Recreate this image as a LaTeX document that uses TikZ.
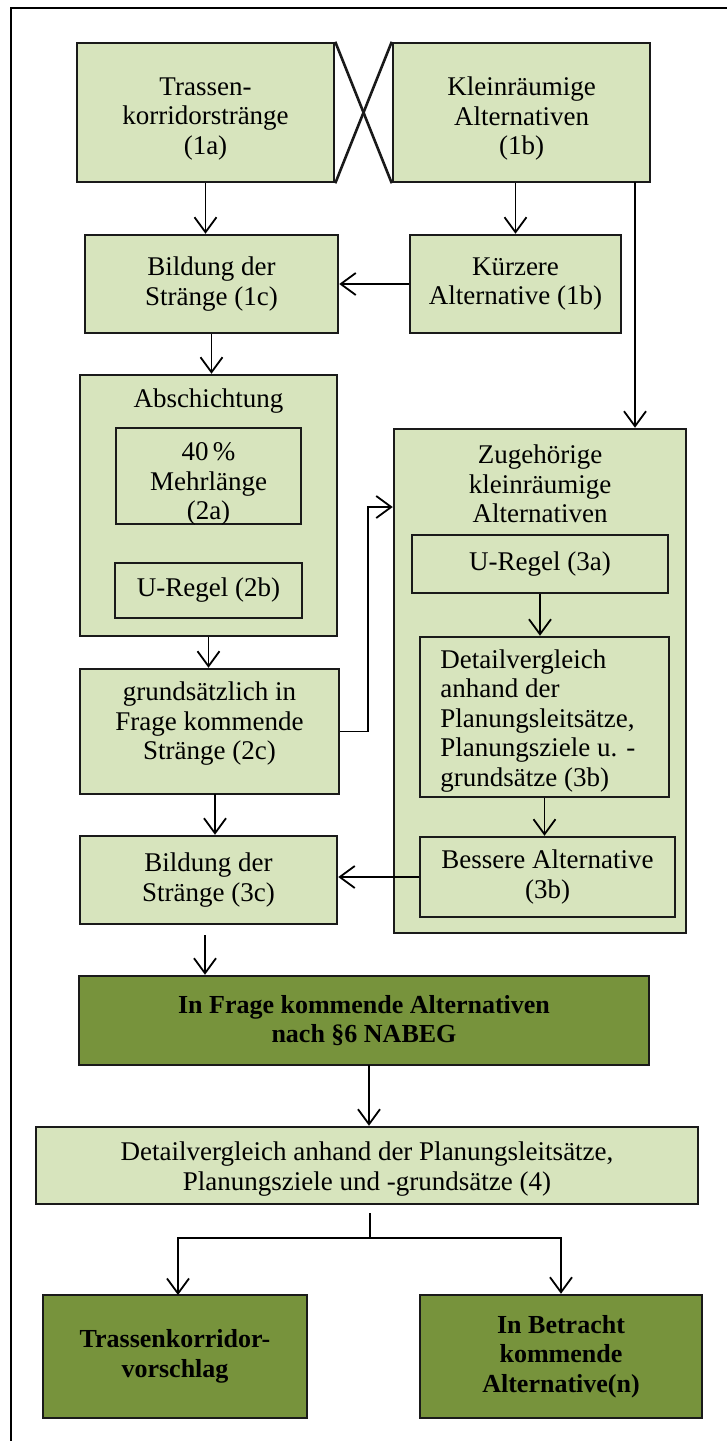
\documentclass[tikz,border=0pt]{standalone}
\usepackage{fontspec}
\setmainfont{Liberation Serif}
\usetikzlibrary{arrows.meta,calc}
\definecolor{lg}{HTML}{D7E4BD}
\definecolor{dg}{HTML}{77933C}
\definecolor{bd}{HTML}{1A1A1A}
\tikzset{
 box/.style={draw=bd, line width=1.25pt, fill=lg, align=center, inner sep=0pt, font=\fontsize{13.5}{14.75}\selectfont},
 dbox/.style={box, fill=dg, font=\fontsize{13}{14.75}\selectfont\bfseries},
 lbl/.style={align=center, inner sep=0pt, font=\fontsize{13.5}{14.75}\selectfont},
 arr/.style={-{Straight Barb[length=7.5pt,width=11pt,line width=0.9pt]}, line width=0.9pt, draw=black},
 ln/.style={line width=0.9pt, draw=black},
 xln/.style={line width=1.3pt, draw=bd},
}
\begin{document}
\begin{tikzpicture}[x=0.5pt,y=-0.5pt]
\useasboundingbox (0,0) rectangle (727,1441);
% frame
\draw[line width=1.3pt] (11,1445) -- (11,8) -- (730,8);

\node[box, minimum width=128.5pt, minimum height=69.5pt] (a1) at (205.5,112.5) {};
\node[lbl] (a1t) at (205.5,119) {Trassen-\\korridorstränge\\(1a)};
\node[box, minimum width=128.5pt, minimum height=69.5pt] (b1) at (521.5,112.5) {};
\node[lbl] (b1t) at (521.5,119) {Kleinräumige\\Alternativen\\(1b)};
\draw[xln] (a1.north east) -- (b1.south west);
\draw[xln] (b1.north west) -- (a1.south east);

\node[box, minimum width=126.5pt, minimum height=49pt] (c1) at (211.5,284) {Bildung der\\Stränge (1c)};
\node[box, minimum width=105.5pt, minimum height=49pt] (kurz) at (515.5,284) {Kürzere\\Alternative (1b)};

\node[box, minimum width=128.5pt, minimum height=130.5pt] (absch) at (208.5,505.5) {};
\node[lbl] (abscht) at (208.5,401) {Abschichtung};
\node[box, minimum width=92.5pt, minimum height=48pt] (m40) at (208.5,476) {};
\node[lbl] (m40t) at (208.5,484) {40\,\%\\Mehrlänge\\(2a)};
\node[box, minimum width=93.5pt, minimum height=27.5pt] (u2b) at (208.5,590.5) {U-Regel (2b)};

\node[box, minimum width=129.5pt, minimum height=62.5pt] (grund) at (209.5,731.5) {};
\node[lbl] (grundt) at (209.5,724) {grundsätzlich in\\Frage kommende\\Stränge (2c)};

\node[box, minimum width=146pt, minimum height=252pt] (zug) at (540,681) {};
\node[lbl] (zugt) at (540,484) {Zugehörige\\kleinräumige\\Alternativen};
\node[box, minimum width=128pt, minimum height=29pt] (u3a) at (540,564) {U-Regel (3a)};
\node[box, minimum width=124.5pt, minimum height=80pt] (det3b) at (544.5,717) {};
\node[lbl, anchor=west, align=left] (det3bt) at (440,721) {Detailvergleich\\anhand der\\Planungsleitsätze,\\Planungsziele u. -\\grundsätze (3b)};
\node[box, minimum width=127.5pt, minimum height=40pt] (bess) at (547.5,877) {Bessere Alternative\\(3b)};

\node[box, minimum width=128.5pt, minimum height=44pt] (c3) at (208.5,880) {Bildung der\\Stränge (3c)};

\node[dbox, minimum width=285pt, minimum height=44.5pt] (frage) at (364,1020.5) {In Frage kommende Alternativen\\nach §6 NABEG};

\node[box, minimum width=331pt, minimum height=38.5pt] (det4) at (367,1165.5) {};
\node[lbl] (det4t) at (367,1169) {Detailvergleich anhand der Planungsleitsätze,\\Planungsziele und -grundsätze (4)};

\node[dbox, minimum width=132pt, minimum height=61.5pt] (tkv) at (175,1356.5) {Trassenkorridor-\\vorschlag};
\node[dbox, minimum width=141pt, minimum height=61.5pt] (betr) at (561,1356.5) {In Betracht\\kommende\\Alternative(n)};

% connectors
\draw[arr] (a1.south) -- (a1.south |- c1.north);
\draw[arr] (kurz.north |- b1.south) -- (kurz.north);
\coordinate (r1) at (635,182);
\draw[arr] (r1) -- (r1 |- zug.north);
\draw[arr] (kurz.west) -- (c1.east);
\draw[arr] (c1.south) -- (c1.south |- absch.north);
\draw[arr] (absch.south) -- (absch.south |- grund.north);
\coordinate (k1) at (368,731.5);
\coordinate (k2) at (368,507);
\draw[arr] (grund.east) -- (k1) -- (k2) -- (k2 -| zug.west);
\draw[arr] (u3a.south) -- (u3a.south |- det3b.north);
\draw[arr] (det3b.south) -- (det3b.south |- bess.north);
\draw[arr] (bess.west) -- (bess.west -| c3.east);
\coordinate (g1) at (215,794);
\draw[arr] (g1) -- (g1 |- c3.north);
\coordinate (s1) at (205,935);
\draw[arr] (s1) -- (s1 |- frage.north);
\coordinate (f1) at (369,1065);
\draw[arr] (f1) -- (f1 |- det4.north);
\coordinate (s2) at (370,1213);
\coordinate (s3) at (370,1238);
\coordinate (t1) at (178,1295);
\draw[ln] (s2) -- (s3);
\draw[arr] (s3) -| (t1);
\draw[arr] (s3) -| (betr.north);
\end{tikzpicture}
\end{document}
